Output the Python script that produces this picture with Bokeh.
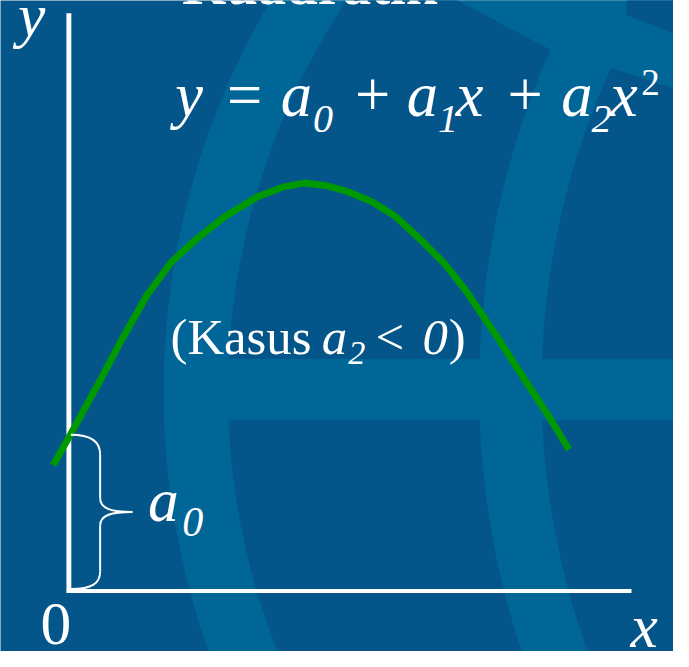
import numpy as np
from bokeh.plotting import figure
from bokeh.models import Range1d
from bokeh.core.properties import value
from bokeh.embed import file_html
from bokeh.resources import INLINE

# ---- chart data (units: pixels of the original slide, measured from the axes corner) ----
curve_x = [-16, 2, 30, 55, 80, 105, 130, 159, 193, 220, 241,
           265, 286, 310, 334, 360, 385, 407, 440, 467, 490, 512]
curve_y = [129, 161, 212, 259, 303, 337, 360, 383, 404, 414, 418,
           415, 409, 399, 384, 360, 335, 307, 258, 216, 181, 145]
x_axis_len = 576
y_axis_len = 592
a0_value = 160

DARK = "#04568a"
LIGHT = "#006597"
GREEN = "#009900"
FONT = value("Liberation Serif")

W, H = 689, 667          # original slide size
PW, PH = 673, 651        # figure size (fits the window)
S = PW / W               # uniform scale for fonts / widths
OX, OY = 70, 605         # slide position of the origin
BASE_FIX = 0.33          # renderer places the alphabetic baseline ~0.33em low


def X(v):
    return np.asarray(v, float) - OX


def Y(v):
    return OY - np.asarray(v, float)


p = figure(width=PW, height=PH,
           x_range=Range1d(0 - OX, W - OX), y_range=Range1d(OY - H, OY),
           output_backend="svg", toolbar_location=None, min_border=0,
           x_axis_location=None, y_axis_location=None,
           background_fill_color=DARK, border_fill_color=DARK, outline_line_color=None)
p.grid.visible = False

# ---- decorative background (globe logo) ----
c1x, c1y, r_out, r_in = 956, 401, 789, 723
c2x, c2y, rm_l, rm_r = 1349, 397, 859, 795
t = np.linspace(0, 2 * np.pi, 720)
p.patch(X(c1x + r_out * np.cos(t)), Y(c1y + r_out * np.sin(t)), fill_color=LIGHT, line_color=None)


def arc_left(cx, cy, r, yy):
    return cx - np.sqrt(np.clip(r ** 2 - (yy - cy) ** 2, 0, None))


def cell(yy, left, right):
    m = right > left
    yy, left, right = yy[m], left[m], right[m]
    xs = np.concatenate([left, right[::-1]])
    ys = np.concatenate([yy, yy[::-1]])
    p.patch(X(xs), Y(ys), fill_color=DARK, line_color=None)


yy = np.linspace(-120, 367, 400)
cell(yy, arc_left(c1x, c1y, r_in, yy),
     np.minimum(arc_left(c2x, c2y, rm_l, yy), 468 + yy / 0.532))
yy = np.linspace(-60, 367, 400)
cell(yy, arc_left(c2x, c2y, rm_r, yy), np.minimum(720.0, 619 + (yy - 67) / 0.3286))
yy = np.linspace(430, 700, 300)
cell(yy, arc_left(c1x, c1y, r_in, yy), arc_left(c2x, c2y, rm_l, yy))
cell(yy, arc_left(c2x, c2y, rm_r, yy), np.full_like(yy, 720.0))
p.patch(X([641, 641, 720, 720]), Y([-20, 15, 46, -20]), fill_color=DARK, line_color=None)

# ---- axes ----
p.line([0, 0], [-2, y_axis_len], line_color="white", line_width=5 * S, line_cap="butt")
p.line([-2, x_axis_len], [0, 0], line_color="white", line_width=4 * S, line_cap="butt")

# ---- curve ----
p.line(curve_x, curve_y, line_color=GREEN, line_width=7 * S, line_join="round", line_cap="butt")

# ---- brace for a0 ----
bx = 32
p.bezier(x0=[2, bx, 65, bx], y0=[a0_value, 95, 81, 20],
         x1=[bx, 65, bx, 2], y1=[140, 81, 67, 2],
         cx0=[24, bx, 44, bx], cy0=[a0_value, 84, 81, 8],
         cx1=[bx, 44, bx, 24], cy1=[152, 81, 78, 2],
         line_color="white", line_width=2 * S)
p.segment(x0=[bx, bx], y0=[140, 67], x1=[bx, bx], y1=[95, 20], line_color="white", line_width=2 * S)


# ---- texts ----
def txt(items, size, style="normal"):
    p.text(x=[float(X(a)) for a, b, c in items],
           y=[float(Y(b)) + BASE_FIX * size for a, b, c in items],
           text=[c for a, b, c in items], text_font=FONT,
           text_font_size=value(f"{size * S:.1f}px"), text_font_style=style, text_color="white",
           text_align="left", text_baseline="alphabetic")


# title (cut by the top edge, as in the slide)
txt([(186, 3, "Kuadratik")], 58, "bold")

# equation
txt([(179, 118, "y"), (287, 118, "a"), (416, 118, "a"), (466, 118, "x"),
     (574, 118, "a"), (624, 118, "x")], 64, "italic")
txt([(232, 118, "="), (363, 118, "+"), (519, 118, "+")], 64)
txt([(320, 135, "0"), (448, 135, "1"), (605, 135, "2")], 41, "italic")
txt([(656, 97, "2")], 38)

# axis labels
txt([(18, 36, "y"), (645, 662, "x"), (151, 533, "a")], 63, "italic")
txt([(41, 660, "0")], 63)
txt([(186, 548, "0")], 43, "italic")

# case note
txt([(174, 362, "(Kasus"), (384, 362, "<"), (459, 362, ")")], 52)
txt([(329, 362, "a"), (432, 362, "0")], 52, "italic")
txt([(356, 373, "2")], 35, "italic")

open("out.html", "w").write(file_html(p, INLINE))
